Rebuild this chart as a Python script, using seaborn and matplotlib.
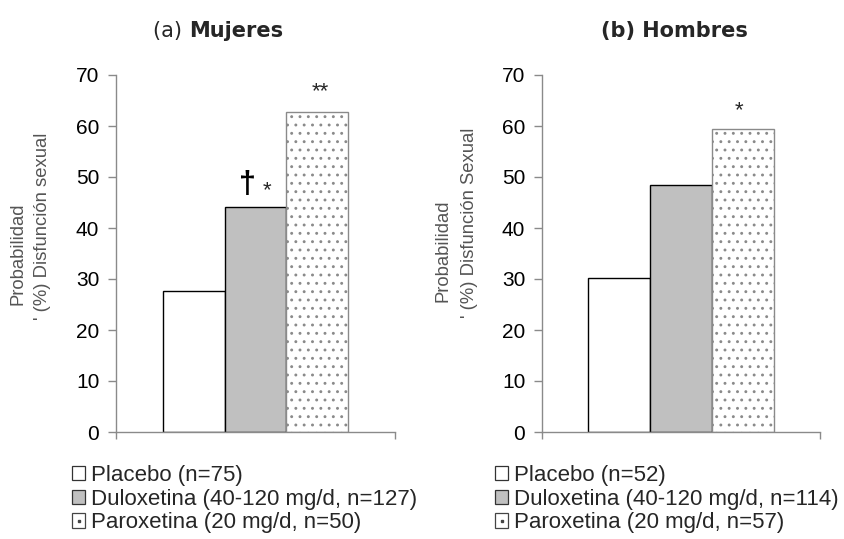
import matplotlib
matplotlib.use("Agg")
import matplotlib.pyplot as plt
import seaborn as sns
import pandas as pd
from matplotlib.patches import Patch
from matplotlib.lines import Line2D
from matplotlib.legend_handler import HandlerTuple

sns.set_style("ticks")
plt.rcParams["font.family"] = ["Liberation Sans", "DejaVu Sans"]
plt.rcParams["hatch.linewidth"] = 0.9

groups = ["Placebo", "Duloxetina", "Paroxetina"]
mujeres_vals = [27.6, 44.1, 62.8]
hombres_vals = [30.1, 48.5, 59.5]
mujeres_labels = ["Placebo (n=75)", "Duloxetina (40-120 mg/d, n=127)", "Paroxetina (20 mg/d, n=50)"]
hombres_labels = ["Placebo (n=52)", "Duloxetina (40-120 mg/d, n=114)", "Paroxetina (20 mg/d, n=57)"]
yticks = [0, 10, 20, 30, 40, 50, 60, 70]

fills = ["white", "#C0C0C0", "white"]
W, H = 844, 539
fig = plt.figure(figsize=(W / 100, H / 100), dpi=100)

def px_ax(l, r, t, b):
    return fig.add_axes([l / W, 1 - b / H, (r - l) / W, (b - t) / H])

ax1 = px_ax(116, 395, 75, 432)
ax2 = px_ax(542, 820, 75, 432)

def draw(ax, vals):
    df = pd.DataFrame({"panel": ["x"] * 3, "group": groups, "value": vals})
    sns.barplot(data=df, x="panel", y="value", hue="group", hue_order=groups,
                palette=fills, edgecolor="black", linewidth=1.0, width=0.666,
                gap=0, legend=False, ax=ax, saturation=1)
    bars = ax.patches
    bars[2].set_hatch("..")
    bars[2].set_edgecolor("#8a8a8a")
    ax.set_xlim(-0.5, 0.5)
    ax.set_ylim(0, 70)
    ax.set_yticks(yticks)
    ax.set_xticks([-0.5, 0.5])
    ax.set_xticklabels(["", ""])
    ax.set_xlabel("")
    ax.set_ylabel("")
    for s in ["top", "right"]:
        ax.spines[s].set_visible(False)
    for s in ["left", "bottom"]:
        ax.spines[s].set_color("#8a8a8a")
        ax.spines[s].set_linewidth(1.0)
    ax.tick_params(axis="y", direction="out", length=6, width=1, color="#8a8a8a",
                   labelsize=15, pad=6, labelcolor="black")
    ax.tick_params(axis="x", direction="out", length=5, width=1, color="#8a8a8a")
    return bars

b1 = draw(ax1, mujeres_vals)
b2 = draw(ax2, hombres_vals)

# titles
fig.text(189 / W, 1 - 37 / H, "(a) ", fontsize=15, family="DejaVu Sans", ha="right", va="baseline")
fig.text(189 / W, 1 - 37 / H, "Mujeres", fontsize=15, family="DejaVu Sans", fontweight="bold",
         ha="left", va="baseline")
fig.text(674 / W, 1 - 37 / H, "(b) Hombres", fontsize=15, family="DejaVu Sans", fontweight="bold",
         ha="center", va="baseline")

# y labels
lab_col = "#555555"
fs_lab = 13.3
fig.text(18 / W, 1 - 305 / H, "Probabilidad", rotation=90, fontsize=fs_lab, color=lab_col,
         ha="center", va="bottom")
fig.text(43 / W, 1 - 320 / H, "' (%) Disfunción sexual", rotation=90, fontsize=fs_lab, color=lab_col,
         ha="center", va="bottom")
fig.text(443 / W, 1 - 302 / H, "Probabilidad", rotation=90, fontsize=fs_lab, color=lab_col,
         ha="center", va="bottom")
fig.text(469 / W, 1 - 318 / H, "' (%) Disfunción Sexual", rotation=90, fontsize=fs_lab, color=lab_col,
         ha="center", va="bottom")

# significance markers
ax1.text(-0.03, mujeres_vals[1] + 2.8, "\u2020", fontsize=22, ha="center", va="baseline",
         color="black", fontweight="bold")
ax1.text(0.041, mujeres_vals[1] + 2.2, "*", fontsize=16, ha="center", va="baseline")
ax1.text(0.231, mujeres_vals[2] + 2.8, "**", fontsize=16, ha="center", va="baseline")
ax2.text(0.209, hombres_vals[2] + 2.5, "*", fontsize=16, ha="center", va="baseline")

# legends
def make_legend(labels, xpx):
    handles = []
    for i, lab in enumerate(labels):
        h = Patch(facecolor=fills[i], edgecolor="#333333", linewidth=0.9)
        if i == 2:
            h = (Patch(facecolor="white", edgecolor="#444444", linewidth=0.9),
                 Line2D([], [], marker="s", markersize=1.6, color="#444444", linestyle="none"))
        handles.append(h)
    leg = fig.legend(handles=handles, labels=labels, loc="upper left",
                     bbox_to_anchor=(xpx / W, 1 - 465 / H), frameon=False,
                     fontsize=16, handlelength=0.6, handleheight=0.6,
                     handletextpad=0.25, labelspacing=0.12, borderpad=0, borderaxespad=0,
                     handler_map={tuple: HandlerTuple(ndivide=1, pad=0)})
    return leg

make_legend(mujeres_labels, 72)
make_legend(hombres_labels, 495)

fig.savefig("out.png", dpi=100)
